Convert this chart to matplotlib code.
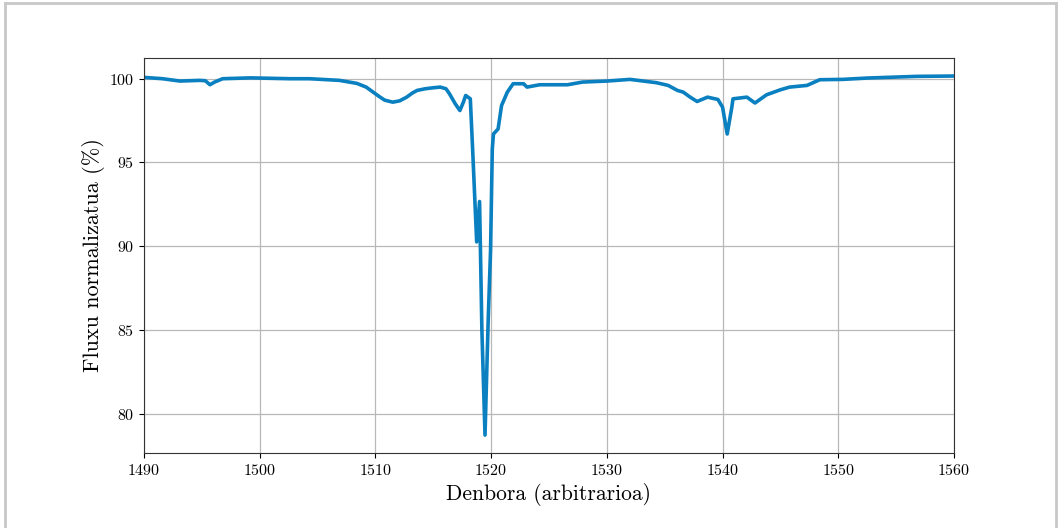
import numpy as np
import matplotlib.pyplot as plt
from matplotlib.lines import Line2D

# time (arbitrary units) and normalised flux (%)
time = [1490.0, 1491.6, 1493.1, 1494.8, 1495.3, 1495.7, 1496.1, 1496.8,
        1499.2, 1502.6, 1504.3, 1506.9, 1508.4, 1509.2, 1509.8, 1510.3,
        1510.8, 1511.5, 1512.1, 1512.7, 1513.2, 1513.6, 1514.3, 1515.0,
        1515.6, 1516.1, 1516.4, 1516.9, 1517.3, 1517.6, 1517.8, 1518.2,
        1518.4, 1518.75, 1519.0, 1519.2, 1519.47, 1519.75, 1519.95, 1520.1,
        1520.2, 1520.6, 1520.9, 1521.4, 1521.9, 1522.8, 1523.1, 1524.2,
        1526.6, 1527.9, 1530.0, 1532.0, 1534.3, 1535.3, 1536.1, 1536.6,
        1537.2, 1537.8, 1538.7, 1539.6, 1540.0, 1540.4, 1540.8, 1540.9,
        1542.1, 1542.8, 1543.8, 1545.0, 1545.8, 1547.3, 1548.4, 1550.4,
        1552.5, 1556.8, 1560.0]
flux = [100.08, 100.0, 99.86, 99.9, 99.88, 99.64, 99.8, 100.0,
        100.05, 100.0, 100.0, 99.9, 99.72, 99.5, 99.2, 98.95,
        98.72, 98.6, 98.68, 98.9, 99.15, 99.3, 99.4, 99.46,
        99.5, 99.4, 99.1, 98.5, 98.1, 98.6, 99.0, 98.8,
        95.8, 90.26, 92.67, 85.0, 78.73, 85.7, 89.76, 95.8,
        96.7, 97.0, 98.4, 99.2, 99.7, 99.7, 99.5, 99.64,
        99.64, 99.8, 99.86, 99.96, 99.76, 99.6, 99.3, 99.2,
        98.9, 98.64, 98.9, 98.76, 98.3, 96.7, 98.3, 98.8,
        98.9, 98.55, 99.04, 99.34, 99.5, 99.6, 99.94, 99.96,
        100.04, 100.14, 100.16]

plt.rcParams['font.family'] = 'cmr10'
plt.rcParams['axes.formatter.use_mathtext'] = True

fig = plt.figure(figsize=(10.58, 5.28), dpi=100)
ax = fig.add_axes([0.1361, 0.142, 0.7656, 0.748])
ax.plot(time, flux, color='#0a80c0', linewidth=2.6)
ax.set_xlim(1490, 1560)
ax.set_xticks([1490, 1500, 1510, 1520, 1530, 1540, 1550, 1560])
ax.set_yticks([80, 85, 90, 95, 100])
ax.grid(True, color='#b8b8b8', linewidth=0.9)
ax.set_axisbelow(True)
ax.tick_params(labelsize=11.5, length=3.5, width=0.8)
for s in ax.spines.values():
    s.set_linewidth(0.8)
    s.set_color('#333333')
ax.set_xlabel('Denbora (arbitrarioa)', fontsize=15.5, labelpad=4)
ax.set_ylabel('Fluxu normalizatua (%)', fontsize=16, labelpad=3)

# light frame around the figure
for xs, ys in [([0.005, 0.005], [0, 0.995]), ([0.005, 0.9985], [0.995, 0.995]),
               ([0.9985, 0.9985], [0.995, 0])]:
    fig.add_artist(Line2D(xs, ys, transform=fig.transFigure,
                          color='#c8c8c8', linewidth=2))

fig.savefig('out.png', dpi=100)
